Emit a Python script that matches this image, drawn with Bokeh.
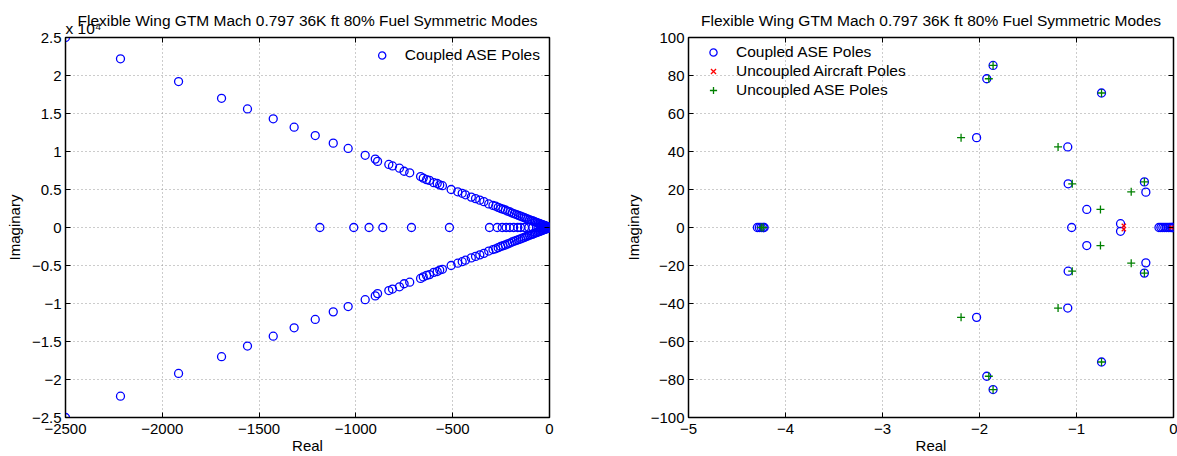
from bokeh.plotting import figure
from bokeh.layouts import row
from bokeh.models import Range1d, FixedTicker, LinearAxis, CustomJSTickFormatter, Title
from bokeh.embed import file_html
from bokeh.resources import INLINE

TITLE = "Flexible Wing GTM Mach 0.797 36K ft 80% Fuel Symmetric Modes"
FONT = "Liberation Sans"

# ---------------- Left plot data (imaginary part in units of 1e4) ----------------
left_branch_real = [-2500, -2216, -1916, -1694, -1560, -1427, -1319, -1210, -1117, -1040,
                    -952, -900, -888, -830, -811, -775, -751, -722, -666, -652, -635, -620,
                    -598, -580, -567, -553, -508, -474, -451, -434, -404, -382, -360, -339,
                    -314, -292, -278, -265, -252, -240, -228, -216, -204, -193, -182, -171,
                    -160, -150, -140, -130, -121, -112, -103, -95, -87, -79, -72, -65, -58,
                    -51, -45, -39, -33, -28, -23, -18, -14, -10, -6, -3, -1]
left_branch_imag_e4 = [2.50, 2.22, 1.92, 1.70, 1.56, 1.43, 1.32, 1.21, 1.11, 1.04,
                       0.95, 0.90, 0.87, 0.83, 0.81, 0.78, 0.74, 0.72, 0.67, 0.65, 0.63, 0.62,
                       0.59, 0.58, 0.56, 0.55, 0.50, 0.47, 0.45, 0.43, 0.40, 0.38, 0.36, 0.34,
                       0.31, 0.29, 0.28, 0.265, 0.25, 0.24, 0.23, 0.215, 0.205, 0.19, 0.18, 0.17,
                       0.16, 0.15, 0.14, 0.13, 0.12, 0.11, 0.10, 0.095, 0.087, 0.079, 0.072, 0.065, 0.058,
                       0.051, 0.045, 0.039, 0.033, 0.028, 0.023, 0.018, 0.014, 0.010, 0.006, 0.003, 0.001]
left_axis_real = [-1186, -1011, -932, -861, -713, -517, -310, -270, -244, -224, -205, -185,
                  -164, -150, -129, -107, -86, -67, -55, -45, -36, -28, -21, -15, -10, -6, -3, -1]
left_x_ticks = [-2500, -2000, -1500, -1000, -500, 0]
left_y_ticks = [-2.5, -2, -1.5, -1, -0.5, 0, 0.5, 1, 1.5, 2, 2.5]
left_exponent = "x 10\u2074"

# ---------------- Right plot data ----------------
coupled_real = [-1.86, -1.925, -0.742, -2.03, -1.09, -1.086, -0.30, -0.285, -0.894, -0.546,
                -1.86, -1.925, -0.742, -2.03, -1.09, -1.086, -0.30, -0.285, -0.894, -0.546,
                -1.05, -4.29, -4.27, -4.25, -4.23, -4.22,
                -0.15, -0.13, -0.11, -0.09, -0.07, -0.05, -0.035, -0.02, -0.01, -0.004]
coupled_imag = [85.3, 78.3, 70.8, 47.3, 42.4, 23.0, 24.0, 18.6, 9.5, 2.0,
                -85.3, -78.3, -70.8, -47.3, -42.4, -23.0, -24.0, -18.6, -9.5, -2.0,
                0, 0, 0, 0, 0, 0,
                0, 0, 0, 0, 0, 0, 0, 0, 0, 0]
aircraft_real = [-0.512, -0.512, -0.02]
aircraft_imag = [0.9, -0.9, 0]
ase_real = [-1.86, -1.904, -0.742, -2.19, -1.19, -1.044, -0.30, -0.436, -0.753,
            -1.86, -1.904, -0.742, -2.19, -1.19, -1.044, -0.30, -0.436, -0.753,
            -4.25, -4.23]
ase_imag = [85.3, 78.3, 70.8, 47.3, 42.4, 23.0, 24.0, 18.8, 9.5,
            -85.3, -78.3, -70.8, -47.3, -42.4, -23.0, -24.0, -18.8, -9.5,
            0, 0]
right_x_ticks = [-5, -4, -3, -2, -1, 0]
right_y_ticks = [-100, -80, -60, -40, -20, 0, 20, 40, 60, 80, 100]

BLUE = "#0000FF"
RED = "#FF0000"
GREEN = "#008000"
TXT = "15.5px"
TICK = "15px"

minus_fmt = "return tick.toString().replace('-', '\u2212');"


def style(p, xt, yt):
    p.title.text_font = FONT
    p.title.text_font_size = TXT
    p.title.text_font_style = "normal"
    p.title.text_color = "black"
    p.title.align = "center"
    p.outline_line_color = "black"
    p.outline_line_width = 1.5
    p.outline_line_alpha = 1
    for ax in (p.xaxis[0], p.yaxis[0]):
        ax.major_label_text_font = FONT
        ax.major_label_text_font_size = TICK
        ax.major_label_text_color = "black"
        ax.axis_label_text_font = FONT
        ax.axis_label_text_font_size = TICK
        ax.axis_label_text_font_style = "normal"
        ax.axis_label_text_color = "black"
        ax.major_tick_in = 5
        ax.major_tick_out = 0
        ax.minor_tick_line_color = None
        ax.axis_line_color = "black"
        ax.axis_line_width = 1
        ax.major_tick_line_color = "black"
        ax.formatter = CustomJSTickFormatter(code=minus_fmt)
    p.xaxis[0].ticker = FixedTicker(ticks=xt)
    p.yaxis[0].ticker = FixedTicker(ticks=yt)
    p.xaxis[0].major_label_standoff = 6
    p.yaxis[0].major_label_standoff = 4
    p.xaxis[0].axis_label_standoff = 0
    p.yaxis[0].axis_label_standoff = 6
    # ticks on top and right (MATLAB box)
    for loc, t in (("above", xt), ("right", yt)):
        ax = LinearAxis(ticker=FixedTicker(ticks=t))
        ax.major_label_text_font_size = "0px"
        ax.major_label_standoff = 0
        ax.major_tick_in = 5
        ax.major_tick_out = 0
        ax.minor_tick_line_color = None
        ax.axis_line_color = None
        ax.major_tick_line_color = "black"
        p.add_layout(ax, loc)
    p.xgrid[0].ticker = FixedTicker(ticks=xt)
    p.ygrid[0].ticker = FixedTicker(ticks=yt)
    for g in (p.xgrid[0], p.ygrid[0]):
        g.grid_line_color = "#999999"
        g.grid_line_dash = "1 3"
        g.grid_line_width = 1
    p.background_fill_color = "white"
    p.border_fill_color = "white"


def style_legend(lg, loc, margin):
    lg.location = loc
    lg.border_line_color = None
    lg.background_fill_alpha = 0
    lg.label_text_font = FONT
    lg.label_text_font_size = TXT
    lg.label_text_color = "black"
    lg.glyph_width = 38
    lg.glyph_height = 18
    lg.label_height = 18
    lg.label_standoff = 4
    lg.spacing = 1
    lg.padding = 0
    lg.margin = margin


W1 = 615
p1 = figure(width=W1, height=456, output_backend="svg", toolbar_location=None,
            x_range=Range1d(-2500, 0), y_range=Range1d(-2.5, 2.5),
            title=TITLE, x_axis_label="Real", y_axis_label="Imaginary",
            min_border_left=65, min_border_right=W1 - 549,
            min_border_top=37, min_border_bottom=39)
style(p1, left_x_ticks, left_y_ticks)

# exponent label placed in the title area, next to the frame
exp_title = Title(text=left_exponent, align="left", text_font=FONT, text_font_size=TXT,
                  text_font_style="normal", text_color="black", standoff=1)
p1.add_layout(exp_title, "above")
p1.title.standoff = -22

all_left_real = left_branch_real + left_branch_real + left_axis_real
all_left_imag = left_branch_imag_e4 + [-v for v in left_branch_imag_e4] + [0] * len(left_axis_real)
p1.scatter(all_left_real, all_left_imag, marker="circle", size=8, fill_color=None,
           line_color=BLUE, line_width=1.3, legend_label="Coupled ASE Poles")
style_legend(p1.legend[0], "top_right", 9)

W2 = 1177 - W1
p2 = figure(width=W2, height=456, output_backend="svg", toolbar_location=None,
            x_range=Range1d(-5, 0), y_range=Range1d(-100, 100),
            title=TITLE, x_axis_label="Real", y_axis_label="Imaginary",
            min_border_left=688 - W1, min_border_right=4,
            min_border_top=37, min_border_bottom=39)
style(p2, right_x_ticks, right_y_ticks)
p2.title.standoff = 18

p2.scatter(coupled_real, coupled_imag, marker="circle", size=8, fill_color=None,
           line_color=BLUE, line_width=1.3, legend_label="Coupled ASE Poles")
p2.scatter(aircraft_real, aircraft_imag, marker="x", size=6, line_color=RED,
           line_width=1.3, legend_label="Uncoupled Aircraft Poles")
p2.scatter(ase_real, ase_imag, marker="cross", size=8, line_color=GREEN,
           line_width=1.3, legend_label="Uncoupled ASE Poles")
style_legend(p2.legend[0], "top_left", 6)

layout = row(p1, p2)
open("out.html", "w").write(file_html(layout, INLINE))
